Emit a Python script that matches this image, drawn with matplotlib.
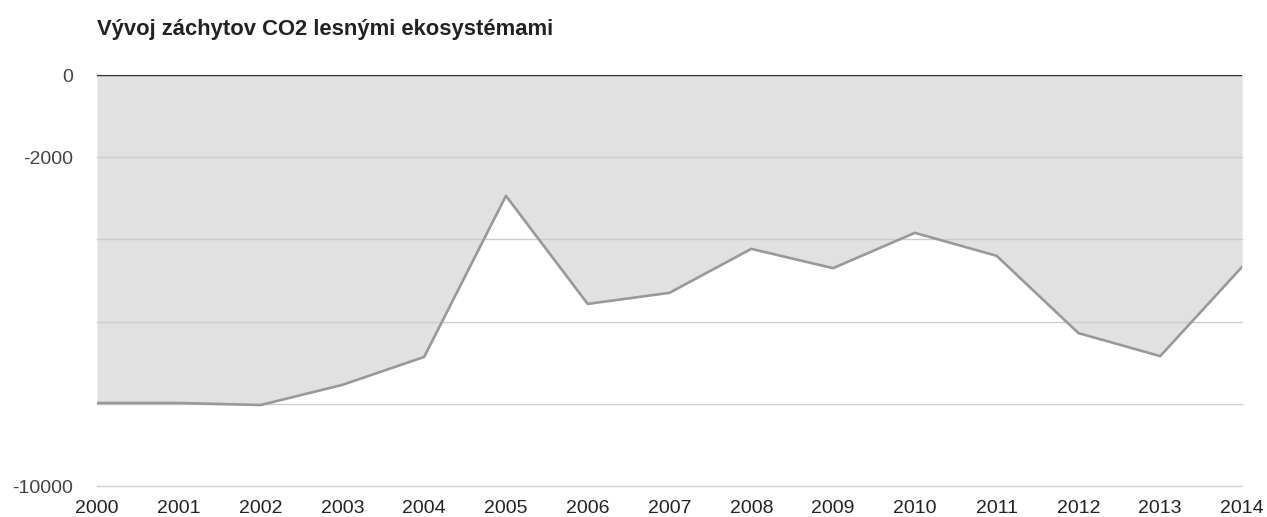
import matplotlib
matplotlib.use("Agg")
import matplotlib.pyplot as plt

plt.rcParams['font.family'] = ['Liberation Sans', 'DejaVu Sans']

# data
years = [2000, 2001, 2002, 2003, 2004, 2005, 2006, 2007, 2008, 2009, 2010, 2011, 2012, 2013, 2014]
co2 = [-7980, -7980, -8030, -7540, -6860, -2940, -5570, -5300, -4230, -4700, -3840, -4400, -6280, -6840, -4670]
ytick_vals = [0, -2000, -4000, -6000, -8000, -10000]
ytick_labels = ['0', '-2000', '', '', '', '-10000']
title = 'Vývoj záchytov CO2 lesnými ekosystémami'

fig = plt.figure(figsize=(12.67, 5.17), dpi=100)
ax = fig.add_axes([97 / 1267, 1 - 486 / 517, (1242 - 97) / 1267, (486 - 75) / 517])

ax.fill_between(years, co2, 0, color='#e0e1e0', linewidth=0, zorder=1)
ax.plot(years, co2, color='#999999', linewidth=1.9, zorder=3)

ax.set_xlim(years[0], years[-1])
ax.set_ylim(-10000, 0)
ax.set_xticks(years)
ax.set_xticklabels([str(y) for y in years], fontsize=14, color='#222222')
ax.set_yticks(ytick_vals)
ax.set_yticklabels(ytick_labels, fontsize=14, color='#444444')
ax.tick_params(axis='both', length=0)
ax.tick_params(axis='x', pad=10)
ax.tick_params(axis='y', pad=17)

ax.set_axisbelow(False)
ax.grid(axis='y', color='#cccccc', linewidth=1.0, zorder=2)
for gl in ax.get_ygridlines():
    gl.set_clip_on(False)
ax.axhline(0, color='#333333', linewidth=1.0, zorder=4)
for s in ax.spines.values():
    s.set_visible(False)

fig.text(97 / 1267, 1 - 29 / 517, title, fontsize=15.8, fontweight='bold',
         color='#222222', ha='left', va='center')

fig.savefig('out.png', dpi=100, facecolor='white')
